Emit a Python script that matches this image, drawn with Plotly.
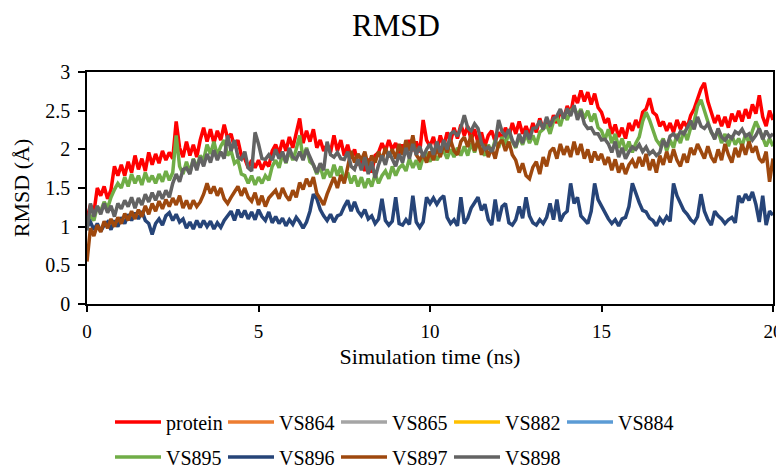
import plotly.graph_objects as go

# Simulation time axis (ns), sampled every 0.1 ns
time_ns = [round(i * 0.1, 1) for i in range(201)]

protein = [
    1.10, 1.28, 1.18, 1.50, 1.40, 1.52, 1.36, 1.48, 1.78, 1.66,
    1.80, 1.66, 1.84, 1.70, 1.92, 1.74, 1.88, 1.72, 1.96, 1.80,
    1.94, 1.82, 1.98, 1.86, 1.96, 1.88, 2.36, 2.02, 1.90, 2.10,
    1.92, 2.06, 1.90, 2.12, 2.28, 2.10, 2.26, 2.08, 2.24, 2.12,
    2.32, 2.14, 2.20, 2.02, 2.12, 1.92, 1.88, 1.76, 1.86, 1.76,
    1.86, 1.74, 1.84, 1.78, 1.98, 2.06, 1.94, 2.12, 1.98, 2.16,
    2.02, 2.20, 2.40, 2.08, 2.24, 2.10, 2.26, 2.02, 2.12, 1.98,
    2.06, 1.96, 2.18, 1.98, 2.12, 1.92, 2.06, 1.88, 2.00, 1.82,
    1.86, 1.72, 1.88, 1.70, 1.92, 1.96, 2.08, 1.98, 2.12, 2.00,
    2.08, 1.94, 2.06, 1.96, 2.12, 1.98, 2.10, 1.96, 2.38, 2.12,
    2.04, 2.16, 1.98, 2.18, 2.04, 2.22, 2.10, 2.28, 2.14, 2.32,
    2.18, 2.30, 2.12, 2.26, 2.08, 2.22, 2.04, 2.18, 2.24, 2.10,
    2.22, 2.14, 2.28, 2.16, 2.34, 2.20, 2.36, 2.20, 2.30, 2.18,
    2.34, 2.22, 2.40, 2.26, 2.38, 2.28, 2.44, 2.34, 2.50, 2.40,
    2.56, 2.46, 2.70, 2.60, 2.76, 2.62, 2.74, 2.58, 2.72, 2.54,
    2.48, 2.34, 2.40, 2.20, 2.32, 2.16, 2.28, 2.14, 2.34, 2.24,
    2.38, 2.28, 2.48, 2.52, 2.66, 2.48, 2.44, 2.30, 2.36, 2.24,
    2.34, 2.22, 2.38, 2.26, 2.36, 2.28, 2.44, 2.52, 2.66, 2.78,
    2.86, 2.62, 2.48, 2.34, 2.44, 2.30, 2.42, 2.28, 2.46, 2.36,
    2.50, 2.36, 2.52, 2.40, 2.58, 2.46, 2.70, 2.42, 2.30, 2.50,
    2.38,
]

vs895 = [
    1.05, 1.14, 1.08, 1.26, 1.20, 1.32, 1.24, 1.38, 1.48, 1.56,
    1.50, 1.64, 1.52, 1.68, 1.56, 1.66, 1.54, 1.70, 1.58, 1.66,
    1.56, 1.68, 1.58, 1.72, 1.60, 1.70, 2.18, 1.78, 1.68, 1.84,
    1.70, 1.88, 1.76, 1.92, 1.86, 2.06, 1.94, 2.10, 1.92, 2.04,
    2.12, 1.92, 1.98, 1.82, 1.86, 1.68, 1.66, 1.56, 1.66, 1.54,
    1.64, 1.56, 1.66, 1.60, 1.78, 1.86, 1.76, 1.94, 1.82, 1.98,
    1.86, 2.00, 2.18, 1.88, 2.02, 1.84, 1.80, 1.68, 1.78, 1.62,
    1.74, 1.64, 1.80, 1.66, 1.78, 1.60, 1.70, 1.56, 1.66, 1.52,
    1.64, 1.50, 1.62, 1.52, 1.68, 1.56, 1.66, 1.72, 1.62, 1.78,
    1.66, 1.76, 1.80, 1.72, 1.88, 1.76, 1.86, 1.74, 1.90, 1.94,
    1.84, 1.96, 1.86, 1.94, 1.98, 1.88, 2.00, 1.90, 2.02, 1.92,
    2.04, 1.92, 2.08, 1.96, 2.10, 1.98, 1.92, 2.06, 1.96, 2.12,
    2.02, 2.16, 2.06, 2.22, 2.10, 2.02, 2.16, 2.06, 2.20, 2.08,
    2.18, 2.06, 2.22, 2.26, 2.32, 2.20, 2.36, 2.42, 2.30, 2.46,
    2.38, 2.50, 2.54, 2.44, 2.52, 2.40, 2.50, 2.36, 2.46, 2.28,
    2.24, 2.12, 2.26, 2.08, 2.20, 2.02, 2.14, 1.98, 2.10, 1.96,
    2.08, 2.16, 2.36, 2.48, 2.38, 2.26, 2.12, 2.06, 2.14, 1.98,
    2.12, 2.02, 2.20, 2.08, 2.24, 2.12, 2.28, 2.36, 2.56, 2.64,
    2.48, 2.36, 2.22, 2.16, 2.24, 2.08, 2.20, 2.04, 2.18, 2.06,
    2.14, 2.04, 2.20, 2.08, 2.24, 2.36, 2.26, 2.14, 2.04, 2.14,
    2.04,
]

vs896 = [
    1.00, 1.06, 0.96, 1.04, 0.94, 1.02, 1.06, 0.96, 1.08, 1.00,
    1.12, 1.04, 1.16, 1.08, 1.18, 1.10, 1.20, 1.08, 1.04, 0.90,
    1.04, 1.10, 1.02, 1.14, 1.18, 1.08, 1.16, 1.06, 1.10, 0.98,
    1.06, 0.97, 1.08, 0.99, 1.08, 1.00, 1.07, 0.97, 1.05, 0.99,
    1.08, 1.14, 1.20, 1.08, 1.22, 1.12, 1.21, 1.10, 1.19, 1.09,
    1.22, 1.13, 1.08, 1.19, 1.05, 1.13, 1.04, 1.11, 1.01, 1.09,
    1.03, 1.12, 1.06, 0.98, 1.06, 1.20, 1.42, 1.36, 1.22, 1.14,
    1.08, 1.16, 1.06, 1.14, 1.16, 1.26, 1.34, 1.20, 1.32, 1.20,
    1.14, 1.22, 1.10, 1.14, 1.04, 1.10, 1.36, 1.08, 1.02, 1.07,
    1.38, 1.04, 1.02, 1.09, 1.03, 1.40, 1.06, 0.99, 1.06, 1.38,
    1.30, 1.37, 1.29, 1.36, 1.40, 1.12, 1.04, 1.09, 1.01, 1.38,
    1.04, 1.11, 1.24, 1.31, 1.38, 1.21, 1.29, 1.09, 1.02, 1.35,
    1.07, 1.26, 1.30, 1.05, 1.02, 1.09, 1.26, 1.11, 1.38, 1.14,
    1.05, 1.02, 1.09, 1.04, 1.12, 1.30, 1.09, 1.35, 1.07, 1.16,
    1.20, 1.56, 1.30, 1.38, 1.14, 1.09, 1.04, 1.20, 1.56, 1.35,
    1.26, 1.17, 1.10, 1.04, 1.09, 1.01, 1.10, 1.12, 1.26, 1.56,
    1.42, 1.31, 1.21, 1.19, 1.11, 1.08, 1.01, 1.11, 1.05, 1.13,
    1.07, 1.56, 1.40, 1.31, 1.21, 1.16, 1.09, 1.05, 1.13, 1.42,
    1.20, 1.09, 1.02, 1.20, 1.14, 1.10, 1.04, 1.09, 1.12, 1.05,
    1.40, 1.31, 1.42, 1.34, 1.45, 1.29, 1.06, 1.40, 1.02, 1.20,
    1.15,
]

vs897 = [
    0.55, 0.98, 0.88, 1.02, 0.93, 1.07, 0.98, 1.10, 1.00, 1.12,
    1.04, 1.17, 1.08, 1.20, 1.10, 1.22, 1.13, 1.27, 1.16, 1.30,
    1.20, 1.33, 1.23, 1.35, 1.26, 1.37, 1.28, 1.40, 1.24, 1.34,
    1.23, 1.34, 1.26, 1.32, 1.42, 1.56, 1.43, 1.52, 1.40, 1.50,
    1.36, 1.30, 1.38, 1.46, 1.52, 1.40, 1.50, 1.38, 1.33, 1.44,
    1.28, 1.40, 1.26, 1.37, 1.42, 1.47, 1.36, 1.50, 1.40, 1.34,
    1.47, 1.38, 1.57, 1.48, 1.62, 1.52, 1.64, 1.43, 1.36, 1.28,
    1.42, 1.53, 1.64, 1.50, 1.67, 1.56, 1.77, 1.98, 1.83, 1.94,
    1.86, 1.97, 1.78, 1.92, 1.83, 1.97, 1.86, 2.02, 1.90, 2.00,
    1.88, 2.07, 1.93, 2.12, 1.98, 2.18, 1.93, 1.86, 1.94, 1.83,
    1.97, 1.86, 2.02, 1.90, 2.07, 1.96, 2.12, 1.98, 1.93, 2.10,
    2.16, 2.03, 2.19, 1.98, 2.12, 1.93, 2.07, 1.90, 2.02, 1.88,
    2.07, 2.12, 1.98, 2.10, 1.93, 1.86, 1.70, 1.82, 1.66, 1.62,
    1.77, 1.84, 1.68, 1.90, 1.78, 1.97, 2.02, 1.88, 2.07, 1.93,
    2.04, 1.90, 2.10, 1.93, 2.07, 1.88, 2.00, 1.83, 1.97, 1.86,
    1.94, 1.80, 1.90, 1.73, 1.87, 1.70, 1.82, 1.68, 1.80, 1.86,
    1.76, 1.90, 1.78, 1.94, 1.73, 1.87, 1.70, 1.92, 1.80, 1.97,
    1.83, 2.00, 1.86, 1.78, 1.94, 1.83, 2.02, 1.93, 2.07, 1.96,
    1.88, 2.04, 1.90, 1.83, 2.00, 1.86, 2.07, 1.93, 1.83, 2.02,
    1.90, 2.07, 1.93, 2.10, 1.96, 2.04, 1.88, 1.83, 1.97, 1.58,
    1.88,
]

vs898 = [
    0.95, 1.30, 1.13, 1.27, 1.16, 1.30, 1.18, 1.27, 1.13, 1.30,
    1.23, 1.34, 1.26, 1.38, 1.24, 1.37, 1.28, 1.42, 1.32, 1.44,
    1.34, 1.46, 1.36, 1.47, 1.38, 1.56, 1.68, 1.58, 1.74, 1.76,
    1.68, 1.87, 1.73, 1.90, 1.78, 1.94, 1.83, 1.99, 1.86, 1.97,
    1.88, 2.18, 1.98, 2.12, 1.90, 1.87, 1.97, 1.76, 1.72, 2.22,
    2.07, 1.88, 1.87, 1.93, 1.86, 2.00, 1.88, 1.97, 1.83, 2.02,
    1.90, 1.87, 1.97, 1.86, 2.00, 1.90, 1.80, 1.70, 1.82, 1.73,
    2.10, 1.93, 1.90, 1.96, 1.88, 1.87, 1.97, 1.78, 1.74, 1.87,
    1.73, 1.90, 1.68, 1.84, 1.63, 1.80, 1.92, 1.80, 1.97, 1.86,
    1.78, 1.94, 1.83, 2.02, 1.88, 2.07, 1.93, 2.04, 1.90, 2.00,
    2.07, 1.93, 2.10, 1.96, 2.12, 2.00, 2.20, 2.23, 2.17, 2.28,
    2.44, 2.28, 2.24, 2.33, 2.27, 2.08, 2.00, 2.03, 1.97, 2.08,
    2.38, 2.23, 2.17, 2.26, 2.12, 2.03, 2.20, 2.08, 2.24, 2.13,
    2.27, 2.28, 2.37, 2.26, 2.42, 2.30, 2.40, 2.43, 2.52, 2.40,
    2.53, 2.43, 2.57, 2.38, 2.50, 2.33, 2.27, 2.28, 2.20, 2.20,
    2.12, 2.13, 2.07, 1.96, 2.10, 1.90, 2.02, 1.88, 1.97, 2.03,
    2.00, 2.06, 1.97, 2.03, 1.94, 1.98, 1.92, 1.96, 2.12, 2.03,
    2.17, 2.20, 2.14, 2.23, 2.20, 2.28, 2.37, 2.26, 2.42, 2.30,
    2.27, 2.33, 2.24, 2.13, 2.27, 2.16, 2.12, 2.18, 2.14, 2.23,
    2.20, 2.26, 2.17, 2.20, 2.12, 2.18, 2.27, 2.13, 2.24, 2.16,
    2.20,
]

# Series listed in the legend with no visible line in the chart
vs864 = []
vs865 = []
vs882 = []
vs884 = []

series_names = ["protein", "VS864", "VS865", "VS882", "VS884",
                "VS895", "VS896", "VS897", "VS898"]
series_values = [protein, vs864, vs865, vs882, vs884,
                 vs895, vs896, vs897, vs898]
series_colors = ["#FF0000", "#ED7D31", "#A5A5A5", "#FFC000", "#5B9BD5",
                 "#70AD47", "#264478", "#9E480E", "#636363"]

x_ticks = [0, 5, 10, 15, 20]
y_ticks = [0, 0.5, 1, 1.5, 2, 2.5, 3]

FONT = "Liberation Serif, Times New Roman, serif"

fig = go.Figure()
for i, (name, vals, col) in enumerate(zip(series_names, series_values, series_colors)):
    xs = time_ns[:len(vals)] if vals else [None]
    ys = vals if vals else [None]
    fig.add_trace(go.Scatter(
        x=xs, y=ys, name=name, mode="lines",
        line=dict(color=col, width=3.5),
        legend="legend" if i < 5 else "legend2",
    ))

legend_common = dict(orientation="h", xref="container", yref="container",
                     xanchor="left", yanchor="middle",
                     entrywidth=52, entrywidthmode="pixels",
                     font=dict(family=FONT, size=20, color="black"),
                     bgcolor="rgba(0,0,0,0)", itemwidth=46, tracegroupgap=0)

# The page places the figure 8 px in from the top-left, so the figure is
# sized to fill the remaining window area.
W, H = 776, 457

fig.update_layout(
    width=W, height=H,
    margin=dict(l=79, r=11, t=64, b=161),
    paper_bgcolor="white", plot_bgcolor="white",
    font=dict(family=FONT, size=20, color="black"),
    title=dict(text="RMSD", x=0.5, xanchor="center", y=1 - 17 / H, yanchor="middle",
               font=dict(family=FONT, size=31, color="black")),
    showlegend=True,
    legend=dict(x=102 / W, y=1 - 414 / H, **legend_common),
    legend2=dict(x=102 / W, y=1 - 449 / H, **legend_common),
)

fig.update_xaxes(
    range=[0, 20], tickvals=x_ticks, ticktext=[str(v) for v in x_ticks],
    tickfont=dict(family=FONT, size=19),
    showline=True, linecolor="black", linewidth=1.5, mirror=True,
    ticks="outside", ticklen=6, tickwidth=1.5, tickcolor="black",
    showgrid=False, zeroline=False, ticklabelstandoff=3, automargin=False,
    title=dict(text="Simulation time (ns)", font=dict(family=FONT, size=22), standoff=8),
)
fig.update_yaxes(
    range=[0, 3], tickvals=y_ticks, ticktext=["0", "0.5", "1", "1.5", "2", "2.5", "3"],
    showline=True, linecolor="black", linewidth=1.5, mirror=True,
    ticks="outside", ticklen=7, tickwidth=1.5, tickcolor="black",
    showgrid=False, zeroline=False, ticklabelstandoff=4, automargin=False,
    title=dict(text="RMSD (Å)", font=dict(family=FONT, size=22), standoff=10),
)

fig.write_html("out.html")
